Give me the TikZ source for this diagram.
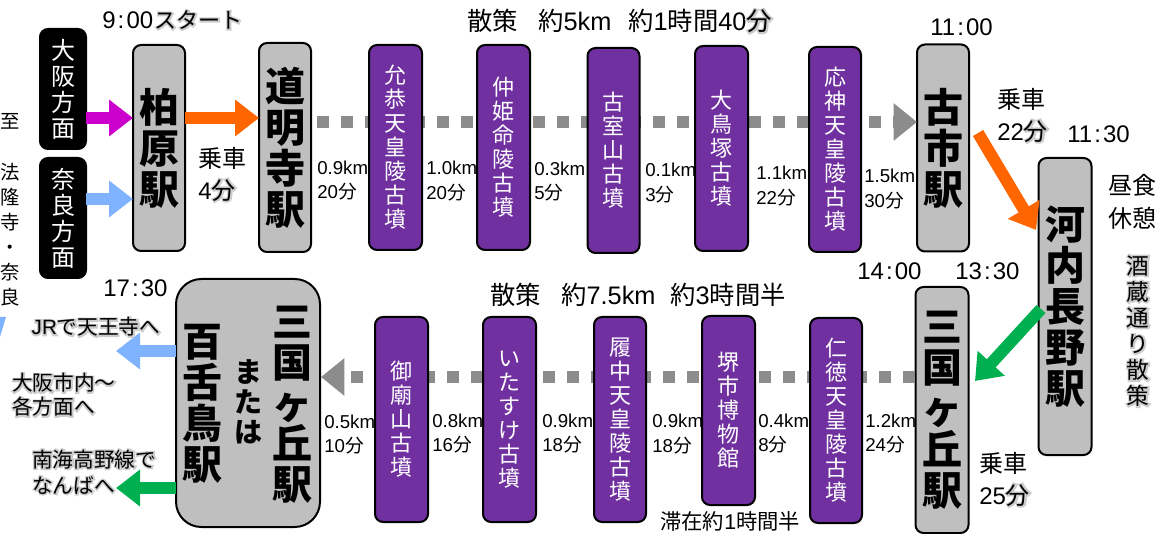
\documentclass[tikz,border=0pt]{standalone}
\usepackage{fontspec}
\usetikzlibrary{arrows.meta}
\setmainfont{Liberation Sans}
\newfontfamily\jp{Noto Sans CJK JP}
\newcommand\J[1]{{\jp #1}}
\newcommand\HL[1]{\rlap{\addfontfeatures{FakeBold=14}\color{gray!40}#1}#1}
\newcommand\JH[1]{{\jp\HL{#1}}}
\newcommand\tm[2]{#1\kern1.6pt:\kern1.6pt#2}
\definecolor{stgray}{HTML}{BFBFBF}
\definecolor{kofun}{HTML}{7030A0}
\definecolor{arrorange}{HTML}{FF6600}
\definecolor{arrmag}{HTML}{CC00CC}
\definecolor{arrblue}{HTML}{80B3FF}
\definecolor{arrgreen}{HTML}{00B050}
\definecolor{dotgray}{HTML}{8C8C8C}
\tikzset{
  wh/.style 2 args={minimum width=#1*0.75pt,minimum height=#2*0.75pt},
  basebox/.style={draw=black,line width=1.5pt,rounded corners=6pt,inner sep=0pt,outer sep=0pt,align=center},
  stn/.style={basebox,fill=stgray,text=black,font=\jp\bfseries\fontsize{30}{30.8}\selectfont},
  kf/.style={basebox,fill=kofun,text=white,font=\jp\fontsize{16.5}{18}\selectfont},
  blk/.style={basebox,draw=black,fill=black,text=white,font=\jp\fontsize{18}{19.5}\selectfont},
  fat/.style={line width=9pt,line cap=butt,-{Triangle[length=18pt,width=26.5pt]}},
  dots/.style={line width=9pt,line cap=butt,draw=dotgray,dash pattern=on 9pt off 9pt,-{Triangle[length=17.5pt,width=27pt]},dotgray},
  dist/.style={anchor=west,inner sep=0pt,align=left,font=\fontsize{14}{18.6}\selectfont},
  big/.style={anchor=west,inner sep=0pt,font=\fontsize{18}{18}\selectfont},
  head/.style={anchor=west,inner sep=0pt,font=\fontsize{19}{19}\selectfont},
  big2/.style={anchor=west,inner sep=0pt,font=\fontsize{18}{24}\selectfont,align=left},
  note/.style={anchor=west,inner sep=0pt,font=\jp\fontsize{15.5}{18}\selectfont,align=left},
  tall/.style={inner sep=0pt,align=center,font=\jp\fontsize{14.5}{18.8}\selectfont}
}
\begin{document}
\begin{tikzpicture}[x=0.75pt,y=-0.75pt]
\useasboundingbox (0,0) rectangle (1163,534);
\coordinate (topS) at (317,122);
\coordinate (botS) at (914,377);
% boxes
\node[blk,wh={46}{120}] (osaka) at (63,89) {大\\阪\\方\\面};
\node[blk,wh={46}{120}] (nara) at (63,218) {奈\\良\\方\\面};
\node[stn,wh={52}{206}] (kashi) at (159,148) {柏\\原\\駅};
\node[stn,wh={52}{209}] (domyo) at (285,147.5) {道\\明\\寺\\駅};
\node[stn,wh={52}{207}] (furu) at (943,148) {古\\市\\駅};
\node[stn,wh={53}{297}] (kawa) at (1065,306.5) {河\\内\\長\\野\\駅};
\node[stn,wh={53}{246}] (mikuni) at (942,410) {三\\国\\ヶ\\丘\\駅};
\draw[dots] (topS) -- (furu.west |- topS);
\draw[dots] (mikuni.west |- botS) ++(-1,0) coordinate (botR) -- (321,377);
\node[kf,wh={53}{205}] (k1) at (395.5,147.5) {允\\恭\\天\\皇\\陵\\古\\墳};
\node[kf,wh={53}{205}] (k2) at (503.5,147.5) {仲\\姫\\命\\陵\\古\\墳};
\node[kf,wh={52}{205}] (k3) at (613.5,150.5) {古\\室\\山\\古\\墳};
\node[kf,wh={53}{205}] (k4) at (721.5,148.5) {大\\鳥\\塚\\古\\墳};
\node[kf,wh={52}{205}] (k5) at (835,149.5) {応\\神\\天\\皇\\陵\\古\\墳};
\node[kf,wh={53}{205}] (k6) at (401.5,419.5) {御\\廟\\山\\古\\墳};
\node[kf,wh={53}{205}] (k7) at (509.5,419.5) {い\\た\\す\\け\\古\\墳};
\node[kf,wh={52}{205}] (k8) at (620,419.5) {履\\中\\天\\皇\\陵\\古\\墳};
\node[kf,wh={53}{189}] (k9) at (728.5,410.5) {堺\\市\\博\\物\\館};
\node[kf,wh={52}{205}] (k10) at (836,420.5) {仁\\徳\\天\\皇\\陵\\古\\墳};
% final station
\node[basebox,fill=stgray,rounded corners=19pt,wh={144}{248}] (moz) at (248,403) {};
\node[inner sep=0pt,align=center,font=\jp\bfseries\fontsize{30}{30.5}\selectfont] (moz1) at (292,405) {三\\国\\ヶ\\丘\\駅};
\node[inner sep=0pt,align=center,font=\jp\bfseries\fontsize{30}{30.8}\selectfont] (moz2) at (202,404) {百\\舌\\鳥\\駅};
\node[inner sep=0pt,align=center,font=\jp\bfseries\fontsize{21}{22.5}\selectfont] (moz3) at (248,402) {ま\\た\\は};
% fat arrows
\draw[fat,arrmag] (osaka.east |- 0,118) -- (kashi.west |- 0,118);
\draw[fat,arrblue] (nara.east |- 0,199) -- (kashi.west |- 0,199);
\draw[fat,arrorange] (kashi.east |- 0,118) -- (domyo.west |- 0,118);
\coordinate (oS) at (978,133); \coordinate (oE) at (1036,230);
\draw[fat,arrorange] (oS) -- (oE);
\coordinate (gS) at (1041,309); \coordinate (gE) at (975,381);
\draw[fat,arrgreen] (gS) -- (gE);
\coordinate (bE) at (116,351); \coordinate (grE) at (116,488);
\draw[fat,arrblue] (moz.west |- bE) -- (bE);
\draw[fat,arrgreen] (moz.west |- grE) -- (grE);
\fill[arrblue] (0,317) -- (6,317) -- (0,337) -- cycle;
% side text
\node[tall] (to) at (10,121) {至};
\node[tall] (via) at (10,234.5) {法\\隆\\寺\\・\\奈\\良};
% headings
\node[big] (t900) at (102,20) {\tm{9}{00}\hspace{1pt}{\fontsize{16.5}{18}\selectfont\JH{ス}\JH{タ}\JH{ー}\JH{ト}}};
\node[head] (w1a) at (467,21) {\J{散策}};
\node[head] (w1b) at (538,21) {\J{約}5km};
\node[head] (w1c) at (628,21) {\J{約}1\J{時間}40\JH{分}};
\node[head] (w2a) at (490,295) {\J{散策}};
\node[head] (w2b) at (561,295) {\J{約}7.5km};
\node[head] (w2c) at (670,295) {\J{約}3\J{時間半}};
\node[note,font=\fontsize{16}{18}\selectfont] (stay) at (660,522) {\J{滞在約}1\J{時間半}};
\node[big] (t1100) at (930,27) {\tm{11}{00}};
\node[big] (t1130) at (1067,134) {\tm{11}{30}};
\node[big] (t1400) at (857,271) {\tm{14}{00}};
\node[big] (t1330) at (955,271) {\tm{13}{30}};
\node[big] (t1730) at (103,288) {\tm{17}{30}};
% ride times
\node[big2] (r1) at (198,174) {\J{乗車}\\4\JH{分}};
\node[big2] (r2) at (997,115) {\J{乗車}\\22\JH{分}};
\node[big2] (r3) at (979,479) {\J{乗車}\\25\JH{分}};
\node[big2,font=\jp\fontsize{18}{24.5}\selectfont] (lunch) at (1108,202) {昼食\\休憩};
\node[tall,font=\jp\fontsize{17}{19.6}\selectfont] (sake) at (1138,331) {\HL{酒}\\\HL{蔵}\\\HL{通}\\\HL{り}\\\HL{散}\\\HL{策}};
% leaving
\node[inner sep=0pt,font=\fontsize{15.5}{18}\selectfont] (jr) at (96,327) {\HL{J}\HL{R}\JH{で}\JH{天}\JH{王}\JH{寺}\JH{へ}};
\node[note,font=\jp\fontsize{15.5}{18}\selectfont] (osk) at (12,395) {\HL{大阪市内～}\\\HL{各方面へ}};
\node[note,font=\jp\fontsize{15.5}{19.5}\selectfont] (nan) at (32,472) {\HL{南海高野線で}\\\HL{なんばへ}};
% distances
\node[dist] (d1) at (317,180.5) {0.9km\\20\J{分}};
\node[dist] (d2) at (426,181) {1.0km\\20\J{分}};
\node[dist] (d3) at (534,181.5) {0.3km\\5\J{分}};
\node[dist] (d4) at (645,183) {0.1km\\3\J{分}};
\node[dist] (d5) at (756,186) {1.1km\\22\J{分}};
\node[dist] (d6) at (864,189) {1.5km\\30\J{分}};
\node[dist] (d7) at (324,434.5) {0.5km\\10\J{分}};
\node[dist] (d8) at (432,433.5) {0.8km\\16\J{分}};
\node[dist] (d9) at (542,433.5) {0.9km\\18\J{分}};
\node[dist] (d10) at (652,434) {0.9km\\18\J{分}};
\node[dist] (d11) at (758,433.5) {0.4km\\8\J{分}};
\node[dist] (d12) at (865,433.5) {1.2km\\24\J{分}};
\end{tikzpicture}
\end{document}
